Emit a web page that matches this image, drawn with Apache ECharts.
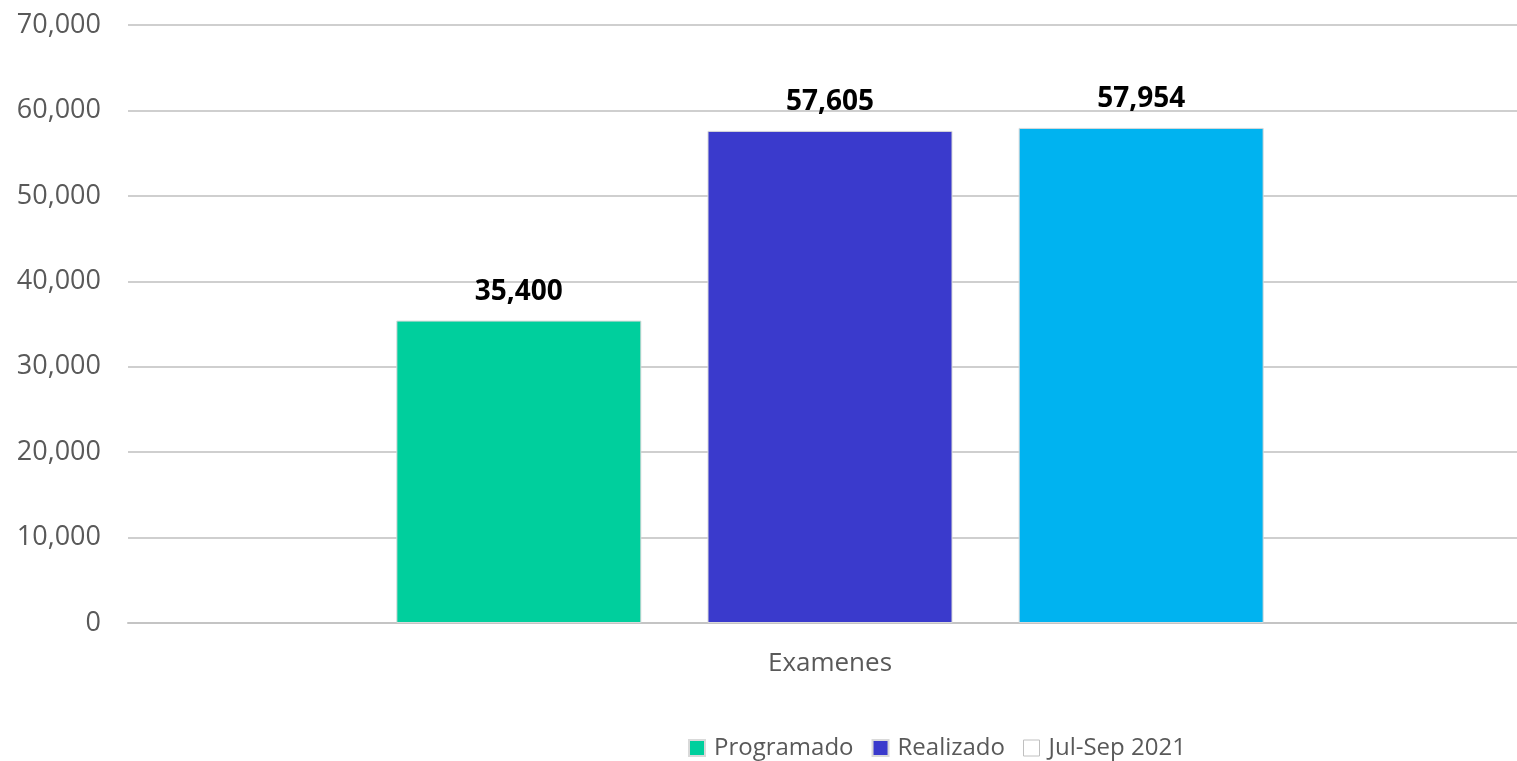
<!DOCTYPE html>
<html><head><meta charset="utf-8">
<script src="https://cdn.jsdelivr.net/npm/echarts@6/dist/echarts.min.js"></script>
<style>html,body{margin:0;padding:0;background:#fff}#c{width:1517px;height:761px}</style>
</head><body><div id="c"></div>
<script>
const categories = ['Examenes'];
const seriesNames = ['Programado', 'Realizado', 'Jul-Sep 2021'];
const programado = [35400];
const realizado = [57605];
const julSep = [57954];
const colors = ['#00CF9D', '#3A3ACC', '#00B3F0'];
const allValues = [programado, realizado, julSep];

const chart = echarts.init(document.getElementById('c'));
const font = '"Open Sans", sans-serif';
chart.setOption({
  animation: false,
  grid: { left: 128, width: 1404, top: 25, bottom: 138, containLabel: false, outerBoundsMode: 'none' },
  legend: {
    bottom: -4, left: 683,
    itemWidth: 16, itemHeight: 16, itemGap: 18,
    icon: 'rect',
    textStyle: { fontFamily: font, fontSize: 24, color: '#595959', padding: [0,0,0,4] },
    data: [
      { name: seriesNames[0] },
      { name: seriesNames[1] },
      { name: seriesNames[2], itemStyle: { color: '#ffffff', borderColor: '#c0c0c0', borderWidth: 1 } }
    ]
  },
  xAxis: {
    type: 'category', data: categories,
    axisLine: { lineStyle: { color: '#c4c4c4', width: 2 } },
    axisTick: { show: false },
    axisLabel: { fontFamily: font, fontSize: 26, color: '#595959', margin: 28 }
  },
  yAxis: {
    type: 'value', min: 0, max: 70000, interval: 10000,
    axisLine: { show: false }, axisTick: { show: false },
    splitLine: { lineStyle: { color: '#cfcfcf', width: 2 } },
    axisLabel: { fontFamily: font, fontSize: 27, color: '#595959', margin: 27,
      formatter: v => v.toLocaleString('en-US') }
  },
  series: allValues.map((vals, i) => ({
    name: seriesNames[i], type: 'bar', data: vals,
    barWidth: 245, barGap: '27%',
    itemStyle: { color: colors[i], borderColor: '#d9d9d9', borderWidth: 1 },
    label: { show: true, position: 'top', distance: 15, fontFamily: font, fontSize: 28,
      fontWeight: 'bold', color: '#000',
      formatter: p => p.value.toLocaleString('en-US') }
  }))
});
</script></body></html>
